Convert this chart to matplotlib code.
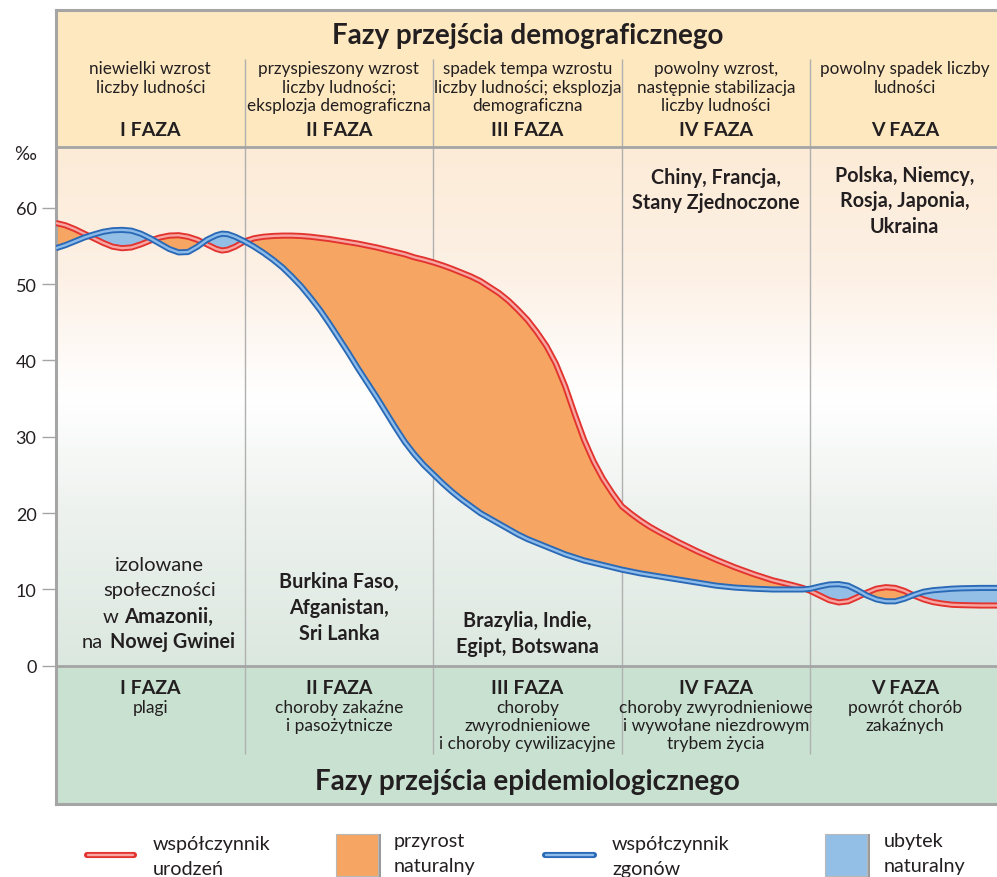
import numpy as np
import matplotlib
matplotlib.use('Agg')
import matplotlib.pyplot as plt
from matplotlib.colors import LinearSegmentedColormap
from matplotlib.patches import Rectangle
from matplotlib.lines import Line2D

plt.rcParams['font.family'] = ['Lato', 'DejaVu Sans']

# x in phase units (0..5), values in promille
x = [0.00, 0.05, 0.10, 0.15, 0.20, 0.25, 0.30, 0.35, 0.40, 0.45, 0.50, 0.55, 0.60, 0.65, 0.70,
     0.75, 0.80, 0.85, 0.88, 0.91, 0.95,
     1.00, 1.05, 1.10, 1.15, 1.20, 1.25, 1.30, 1.35, 1.40, 1.45, 1.50, 1.55, 1.60, 1.65, 1.70,
     1.75, 1.80, 1.85, 1.90, 1.95,
     2.00, 2.05, 2.10, 2.15, 2.20, 2.25, 2.30, 2.35, 2.40, 2.45, 2.50, 2.55, 2.60, 2.65, 2.70,
     2.75, 2.80, 2.85, 2.90, 2.95,
     3.00, 3.05, 3.10, 3.15, 3.20, 3.30, 3.40, 3.50, 3.60, 3.70, 3.80, 3.90, 3.96,
     4.00, 4.05, 4.10, 4.15, 4.20, 4.25, 4.30, 4.35, 4.40, 4.45, 4.50, 4.55, 4.60, 4.65, 4.70,
     4.75, 4.80, 4.90, 5.00]
birth = [58.0, 57.7, 57.2, 56.6, 56.0, 55.4, 54.9, 54.7, 54.8, 55.2, 55.7, 56.1, 56.35, 56.4, 56.2,
         55.8, 55.2, 54.6, 54.4, 54.5, 54.9,
         55.6, 56.0, 56.2, 56.3, 56.35, 56.35, 56.3, 56.2, 56.05, 55.9, 55.7, 55.5, 55.3, 55.05, 54.8,
         54.5, 54.2, 53.9, 53.5, 53.2,
         52.85, 52.45, 52.0, 51.5, 51.0, 50.4, 49.6, 48.8, 47.8, 46.6, 45.3, 43.7, 41.9, 39.6, 36.6,
         33.0, 29.6, 26.8, 24.5, 22.6,
         20.9, 19.9, 19.0, 18.2, 17.5, 16.2, 15.0, 13.9, 12.9, 12.0, 11.2, 10.6, 10.2,
         9.8, 9.2, 8.6, 8.3, 8.45, 9.0, 9.6, 10.1, 10.3, 10.2, 9.8, 9.2, 8.7, 8.35, 8.15,
         8.0, 7.95, 7.9, 7.9]
death = [54.7, 55.1, 55.6, 56.1, 56.5, 56.85, 57.05, 57.1, 57.0, 56.6, 56.0, 55.3, 54.6, 54.15, 54.2,
         54.9, 55.8, 56.4, 56.6, 56.55, 56.2,
         55.6, 54.9, 54.1, 53.2, 52.2, 51.0, 49.7, 48.2, 46.6, 44.8, 42.9, 41.0, 39.0, 37.1, 35.2,
         33.2, 31.2, 29.3, 27.7, 26.3,
         25.1, 23.9, 22.8, 21.8, 20.9, 20.0, 19.3, 18.6, 17.9, 17.2, 16.6, 16.1, 15.6, 15.1, 14.6,
         14.2, 13.8, 13.5, 13.2, 12.9,
         12.6, 12.35, 12.1, 11.9, 11.7, 11.3, 10.9, 10.5, 10.25, 10.1, 10.0, 10.0, 10.0,
         10.1, 10.4, 10.65, 10.7, 10.5, 9.9, 9.2, 8.7, 8.45, 8.45, 8.8, 9.3, 9.7, 9.9, 10.0,
         10.1, 10.15, 10.2, 10.2]

phases = ['I FAZA', 'II FAZA', 'III FAZA', 'IV FAZA', 'V FAZA']
demo_desc = ['niewielki wzrost\nliczby ludności',
             'przyspieszony wzrost\nliczby ludności;\neksplozja demograficzna',
             'spadek tempa wzrostu\nliczby ludności; eksplozja\ndemograficzna',
             'powolny wzrost,\nnastępnie stabilizacja\nliczby ludności',
             'powolny spadek liczby\nludności']
epi_desc = ['plagi', 'choroby zakaźne\ni pasożytnicze',
            'choroby\nzwyrodnieniowe\ni choroby cywilizacyjne',
            'choroby zwyrodnieniowe\ni wywołane niezdrowym\ntrybem życia',
            'powrót chorób\nzakaźnych']
yticks = [0, 10, 20, 30, 40, 50, 60]

W, H = 997, 878
fig = plt.figure(figsize=(W / 100, H / 100), dpi=100)
ax = fig.add_axes([56 / W, 73 / H, 943 / W, 794 / H])
ymin, ymax, yhead = -18.1, 85.9, 67.9

dark = '#231f20'
grey = '#a5a5a5'

# backgrounds
ax.axhspan(yhead, ymax, color='#fde8bf', zorder=0)
ax.axhspan(ymin, 0, color='#c8e1d1', zorder=0)
cm = LinearSegmentedColormap.from_list('bg', [(0, '#dbe8df'), (0.3, '#eef2ef'), (0.52, '#ffffff'),
                                              (0.75, '#fdf1e6'), (1, '#fcebd6')])
grad = np.linspace(0, 1, 256).reshape(-1, 1)
ax.imshow(grad, extent=[0, 5, 0, yhead], aspect='auto', cmap=cm, origin='lower', zorder=0)
ax.set_xlim(0, 5)
ax.set_ylim(ymin, ymax)

ax.vlines([1, 2, 3, 4], -11.5, 79.5, color='#b0b0b0', lw=1, zorder=1)
ax.axhline(yhead, color=grey, lw=2, zorder=1)
ax.axhline(0, color=grey, lw=2, zorder=1)

# curves
xa, ba, da = np.array(x), np.array(birth), np.array(death)
ax.fill_between(xa, ba, da, where=ba >= da, interpolate=True, color='#f6a662', lw=0, zorder=2)
ax.fill_between(xa, ba, da, where=ba < da, interpolate=True, color='#93bfe6', lw=0, zorder=2)
line_kw = dict(zorder=3, solid_capstyle='butt', solid_joinstyle='round')
ax.plot(xa, ba, color='#e2332e', lw=4.4, **line_kw)
ax.plot(xa, ba, color='#f7a6a2', lw=1.7, **line_kw)
ax.plot(xa, da, color='#2a69b5', lw=4.4, **line_kw)
ax.plot(xa, da, color='#8dbbea', lw=1.7, **line_kw)

# axes styling
for s in ax.spines.values():
    s.set_color(grey)
    s.set_linewidth(2.2)
ax.set_xticks([])
ax.set_yticks(yticks)
ax.set_yticklabels([str(v) for v in yticks], fontsize=13, color=dark)
ax.tick_params(axis='y', length=10, width=1, color=grey, pad=4)
fig.text(25 / W, 1 - 155 / H, '‰', fontsize=13.5, color=dark, ha='center', va='center')

# header texts
ax.text(2.5, 82.6, 'Fazy przejścia demograficznego', ha='center', va='center',
        fontsize=20, fontweight='bold', color=dark)
for i in range(5):
    ax.text(i + 0.5, 79.3, demo_desc[i], ha='center', va='top', fontsize=12.3,
            color=dark, linespacing=1.17)
    ax.text(i + 0.5, 70.3, phases[i], ha='center', va='center', fontsize=14,
            fontweight='bold', color=dark)
    ax.text(i + 0.5, -2.8, phases[i], ha='center', va='center', fontsize=14,
            fontweight='bold', color=dark)
    ax.text(i + 0.5, -4.4, epi_desc[i], ha='center', va='top', fontsize=12.5,
            color=dark, linespacing=1.12)
ax.text(2.5, -15.1, 'Fazy przejścia epidemiologicznego', ha='center', va='center',
        fontsize=20, fontweight='bold', color=dark)

# example countries
bold_kw = dict(ha='center', va='center', fontsize=14.2, fontweight='bold', color=dark,
               linespacing=1.35)
ax.text(3.5, 62.4, 'Chiny, Francja,\nStany Zjednoczone', **bold_kw)
ax.text(4.5, 61.0, 'Polska, Niemcy,\nRosja, Japonia,\nUkraina', **bold_kw)
ax.text(1.5, 7.7, 'Burkina Faso,\nAfganistan,\nSri Lanka', **bold_kw)
ax.text(2.5, 4.3, 'Brazylia, Indie,\nEgipt, Botswana', **bold_kw)
ax.text(0.55, 13.3, 'izolowane', ha='center', va='center', fontsize=14.5, color=dark)
ax.text(0.55, 10.0, 'społeczności', ha='center', va='center', fontsize=14.5, color=dark)
ax.text(0.33, 6.5, 'w', ha='right', va='center', fontsize=14.5, color=dark)
ax.text(0.36, 6.5, 'Amazonii,', ha='left', va='center', fontsize=14.6, fontweight='bold',
        color=dark)
ax.text(0.25, 3.2, 'na', ha='right', va='center', fontsize=14.5, color=dark)
ax.text(0.285, 3.2, 'Nowej Gwinei', ha='left', va='center', fontsize=14.2, fontweight='bold',
        color=dark)

# legend below the chart
def fx(px):
    return px / W

def fy(py):
    return 1 - py / H

for x0, x1, c_out, c_in in [(87, 134, '#e2332e', '#f7a6a2'), (545, 594, '#2a69b5', '#8dbbea')]:
    fig.add_artist(Line2D([fx(x0), fx(x1)], [fy(856), fy(856)], color=c_out, lw=4.4,
                          solid_capstyle='round'))
    fig.add_artist(Line2D([fx(x0 + 1), fx(x1 - 1)], [fy(856), fy(856)], color=c_in, lw=1.7,
                          solid_capstyle='round'))
for x0, col in [(336, '#f6a662'), (825, '#93bfe6')]:
    fig.add_artist(Rectangle((fx(x0 + 3), fy(880)), fx(42), 45 / H, color='#9a9a9a', lw=0))
    fig.add_artist(Rectangle((fx(x0), fy(877)), fx(42), 42 / H, facecolor=col,
                             edgecolor='#b8b8b8', lw=0.8))
leg_txt = [(153, 'współczynnik\nurodzeń', 857), (394, 'przyrost\nnaturalny', 854),
           (612, 'współczynnik\nzgonów', 857), (884, 'ubytek\nnaturalny', 854)]
for px, t, py in leg_txt:
    fig.text(fx(px), fy(py), t, ha='left', va='center', fontsize=14.2, color=dark,
             linespacing=1.55)

fig.savefig('out.png', dpi=100)
